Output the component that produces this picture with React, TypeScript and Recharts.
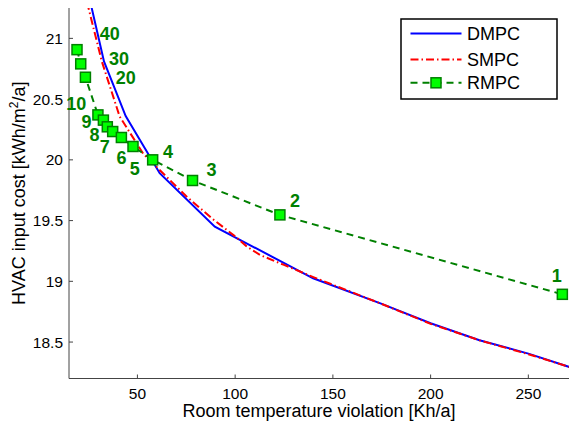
import React from "react";
import { LineChart, Line, XAxis, YAxis, Legend, LabelList } from "recharts";

// ---- data ----
const DMPC_X = [25.9, 32.9, 44.0, 61.4, 89.6, 139.9, 174, 200, 225, 250, 271];
const DMPC_Y = [21.3, 20.81, 20.36, 19.89, 19.45, 19.025, 18.82, 18.655, 18.515, 18.405, 18.295];

const SMPC_X = [24.2, 31.8, 40.9, 53, 64, 75, 88, 100, 106, 113, 125, 140, 174, 200, 225, 250, 271];
const SMPC_Y = [21.3, 20.81, 20.357, 20.05, 19.875, 19.7, 19.52, 19.37, 19.285, 19.215, 19.135, 19.035, 18.82, 18.65, 18.515, 18.4, 18.295];

const RMPC_LABELS = ["40", "30", "20", "10", "9", "8", "7", "6", "5", "4", "3", "2", "1"];
const RMPC_X = [19.1, 21.0, 23.4, 29.8, 32.6, 34.6, 37.35, 41.8, 47.75, 57.8, 78.2, 122.9, 267.4];
const RMPC_Y = [20.907, 20.79, 20.68, 20.37, 20.327, 20.272, 20.233, 20.184, 20.11, 20.0, 19.83, 19.547, 18.893];

const X_TICKS = [50, 100, 150, 200, 250];
const Y_TICKS = [18.5, 19, 19.5, 20, 20.5, 21];

// ---- layout (label placement offsets in px, not data) ----
const RMPC_LABEL_OFFSETS: [number, number][] = [
  [32.7, -15.7], [38.3, -5.7], [40.3, 0.6], [-21.6, -11.7], [-17, 1.4], [-12.7, 8],
  [-8, 15], [0, 20], [1.7, 21.6], [15.3, -8.3], [19, -10.7], [15, -14], [-5.6, -18.3],
];

const dmpc = DMPC_X.map((x, i) => ({ x, y: DMPC_Y[i] }));
const smpc = SMPC_X.map((x, i) => ({ x, y: SMPC_Y[i] }));
const rmpc = RMPC_X.map((x, i) => ({ x, y: RMPC_Y[i], label: RMPC_LABELS[i] }));

const FONT = "'Liberation Sans', Arial, Helvetica, sans-serif";
const AXIS_COLOR = "#444";
const GREEN = "#008000";
const LIME = "#00ff00";
const RED_DASH = "8 3 1.5 3";
const GREEN_DASH = "7 5";

const XTick = (props: any) => {
  const { x, y, payload } = props;
  return (
    <g>
      <line x1={x} x2={x} y1={y} y2={y - 4} stroke={AXIS_COLOR} strokeWidth={1} />
      <text x={x} y={y + 20} textAnchor="middle" fontSize={15.5} fontFamily={FONT} fill="#000">
        {payload.value}
      </text>
    </g>
  );
};

const YTick = (props: any) => {
  const { x, y, payload } = props;
  return (
    <g>
      <line x1={x} x2={x + 4} y1={y} y2={y} stroke={AXIS_COLOR} strokeWidth={1} />
      <text x={x - 6} y={y} dy="0.36em" textAnchor="end" fontSize={15.5} fontFamily={FONT} fill="#000">
        {payload.value}
      </text>
    </g>
  );
};

const YLabel = (props: any) => {
  const vb = props.viewBox || { x: 0, y: 8, width: 69, height: 370 };
  const cx = 25;
  const cy = vb.y + vb.height / 2;
  return (
    <text
      x={cx}
      y={cy}
      transform={`rotate(-90 ${cx} ${cy})`}
      textAnchor="middle"
      fontSize={18}
      fontFamily={FONT}
      fill="#000"
    >
      HVAC input cost [kWh/m
      <tspan dy={-7} fontSize={12}>2</tspan>
      <tspan dy={7} fontSize={18}>/a]</tspan>
    </text>
  );
};

const XLabel = (props: any) => {
  const vb = props.viewBox || { x: 69, y: 378.5, width: 500, height: 45 };
  return (
    <text
      x={vb.x + vb.width / 2}
      y={417}
      textAnchor="middle"
      fontSize={18}
      fontFamily={FONT}
      fill="#000"
    >
      Room temperature violation [Kh/a]
    </text>
  );
};

const SquareDot = (props: any) => {
  const { cx, cy, index } = props;
  if (cx == null || cy == null) return <g key={`d-${index}`} />;
  return (
    <rect
      key={`d-${index}`}
      x={cx - 5}
      y={cy - 5}
      width={10}
      height={10}
      fill={LIME}
      stroke={GREEN}
      strokeWidth={1.5}
    />
  );
};

const RmpcLabel = (props: any) => {
  const { x, y, value, index } = props;
  const off = RMPC_LABEL_OFFSETS[index] || [0, 0];
  return (
    <text
      x={x + off[0]}
      y={y + off[1]}
      dy="0.36em"
      textAnchor="middle"
      fontSize={18}
      fontWeight="bold"
      fontFamily={FONT}
      fill={GREEN}
    >
      {value}
    </text>
  );
};

const LegendBox = () => (
  <svg width={159} height={82} style={{ display: "block" }}>
    <rect x={1} y={1} width={156} height={80} fill="#fff" stroke="#000" strokeWidth={1.5} />
    <line x1={10.5} x2={61.5} y1={15.5} y2={15.5} stroke="#0000ff" strokeWidth={2} />
    <text x={67} y={15.5} dy="0.36em" fontSize={18} fontFamily={FONT} fill="#000">DMPC</text>
    <line x1={10.5} x2={61.5} y1={41.5} y2={41.5} stroke="#ff0000" strokeWidth={2} strokeDasharray={RED_DASH} />
    <text x={67} y={41.5} dy="0.36em" fontSize={18} fontFamily={FONT} fill="#000">SMPC</text>
    <line x1={10.5} x2={61.5} y1={64.8} y2={64.8} stroke={GREEN} strokeWidth={2} strokeDasharray={GREEN_DASH} />
    <rect x={31} y={59.8} width={10} height={10} fill={LIME} stroke={GREEN} strokeWidth={1.5} />
    <text x={67} y={64.8} dy="0.36em" fontSize={18} fontFamily={FONT} fill="#000">RMPC</text>
  </svg>
);

export default function App() {
  return (
    <div style={{ position: "absolute", left: 0, top: 0, width: 569, height: 424, background: "#fff" }}>
      <LineChart width={569} height={424} margin={{ top: 8, right: 0, bottom: 0, left: 0 }}>
        <XAxis
          dataKey="x"
          type="number"
          domain={[15, 270.8]}
          allowDataOverflow
          ticks={X_TICKS}
          tick={<XTick />}
          tickLine={false}
          tickSize={0}
          tickMargin={0}
          height={45.5}
          axisLine={{ stroke: AXIS_COLOR, strokeWidth: 1 }}
          label={<XLabel />}
        />
        <YAxis
          dataKey="y"
          type="number"
          domain={[18.2, 21.25]}
          allowDataOverflow
          ticks={Y_TICKS}
          tick={<YTick />}
          tickLine={false}
          tickSize={0}
          tickMargin={0}
          width={69}
          axisLine={{ stroke: AXIS_COLOR, strokeWidth: 1 }}
          label={<YLabel />}
        />
        <Legend
          layout="vertical"
          align="center"
          verticalAlign="middle"
          content={() => <LegendBox />}
          wrapperStyle={{ left: 399.5, top: 18, width: 159, height: 82 }}
        />
        <Line
          data={dmpc}
          dataKey="y"
          name="DMPC"
          type="linear"
          stroke="#0000ff"
          strokeWidth={2}
          dot={false}
          activeDot={false}
          isAnimationActive={false}
        />
        <Line
          data={smpc}
          dataKey="y"
          name="SMPC"
          type="linear"
          stroke="#ff0000"
          strokeWidth={2}
          strokeDasharray={RED_DASH}
          dot={false}
          activeDot={false}
          isAnimationActive={false}
        />
        <Line
          data={rmpc}
          dataKey="y"
          name="RMPC"
          type="linear"
          stroke={GREEN}
          strokeWidth={2}
          strokeDasharray={GREEN_DASH}
          dot={(p: any) => <SquareDot {...p} />}
          activeDot={false}
          isAnimationActive={false}
        >
          <LabelList dataKey="label" content={(p: any) => <RmpcLabel {...p} />} />
        </Line>
      </LineChart>
    </div>
  );
}
